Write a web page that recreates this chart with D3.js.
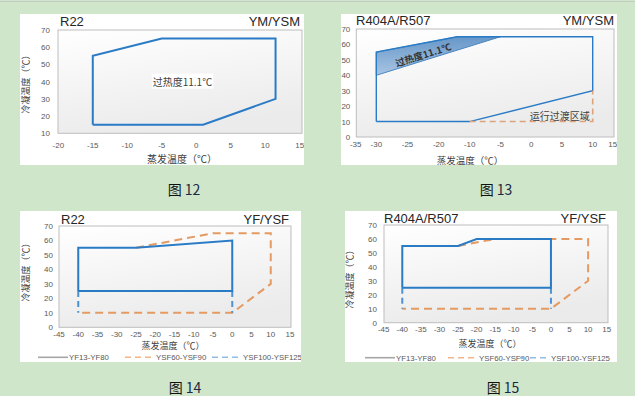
<!DOCTYPE html>
<html>
<head>
<meta charset="utf-8">
<script src="https://cdnjs.cloudflare.com/ajax/libs/d3/7.8.5/d3.min.js"></script>
<style>
  html, body { margin: 0; padding: 0; background: #cfe6cb; }
  svg { display: block; }
  text { font-family: "Liberation Sans", Arial, sans-serif; }
  .cjk { font-family: "Noto Sans CJK SC", sans-serif; }
</style>
</head>
<body>
<div id="chart"></div>
<script>
// ---- data ----
const fig12Envelope = [[-15, 15], [-15, 55], [-5, 65], [11.5, 65], [11.5, 30], [1, 15], [-15, 15]];
const fig12Label = { x: -2, y: 40, text: "过热度11.1℃" };

const fig13Envelope = [[-30, 10], [-30, 55], [-14, 65], [10, 65], [10, 30], [-10, 10], [-30, 10]];
const fig13Superheat = [[-30, 55], [-14, 65], [-5, 65], [-30, 40]];
const fig13Transition = [[-10, 10], [10, 10], [10, 30]];
const fig13XTicks = [-35, -30, -25, -20, -10, -5, 0, 5, 10, 15];

const fig14Solid = [[-40, 25], [-40, 55], [-25, 55], [0, 60], [0, 25], [-40, 25]];
const fig14Orange = [[-25, 55], [-5, 65], [10, 65], [10, 30], [0, 10], [-40, 10]];
const fig14BlueDash = [[[-40, 25], [-40, 10]], [[0, 25], [0, 10]]];

const fig15Solid = [[-40, 25], [-40, 55], [-25, 55], [-20, 60], [0, 60], [0, 25], [-40, 25]];
const fig15Orange = [[-25, 55], [-15, 60], [10, 60], [10, 30], [0, 10], [-40, 10]];
const fig15BlueDash = [[[-40, 25], [-40, 10]], [[0, 25], [0, 10]]];

const ticksX12 = [-20, -15, -10, -5, 0, 5, 10, 15];
const ticksY12 = [10, 20, 30, 40, 50, 60, 70];
const ticksX14 = [-45, -40, -35, -30, -25, -20, -15, -10, -5, 0, 5, 10, 15];
const ticksY14 = [0, 10, 20, 30, 40, 50, 60, 70];
const legendNames = ["YF13-YF80", "YSF60-YSF90", "YSF100-YSF125"];

const W = 635, H = 396;
const BLUE = "#2a7bc6", ORANGE = "#e49a62", BLUE_DASH = "#4d93d4";

const svg = d3.select("#chart").append("svg").attr("width", W).attr("height", H);

const defs = svg.append("defs");
const pg = defs.append("linearGradient").attr("id", "plotfill").attr("x1", 0).attr("y1", 0).attr("x2", 0.3).attr("y2", 1);
pg.append("stop").attr("offset", "0%").attr("stop-color", "#ffffff");
pg.append("stop").attr("offset", "100%").attr("stop-color", "#ebebeb");
const sg = defs.append("linearGradient").attr("id", "shfill").attr("x1", 0).attr("y1", 0).attr("x2", 0).attr("y2", 1);
sg.append("stop").attr("offset", "0%").attr("stop-color", "#6797c9");
sg.append("stop").attr("offset", "100%").attr("stop-color", "#a9c5e3");

// top rule
svg.append("line").attr("x1", 0).attr("x2", W).attr("y1", 1.5).attr("y2", 1.5)
  .attr("stroke", "#c3ccc3").attr("stroke-width", 1);

let clipId = 0;
function panel(o) {
  const id = "clip" + (clipId++);
  defs.append("clipPath").attr("id", id).append("rect")
    .attr("x", o.box[0]).attr("y", o.box[1])
    .attr("width", o.box[2] - o.box[0]).attr("height", o.box[3] - o.box[1]);
  const outer = svg.append("g");
  const g = outer.append("g").attr("clip-path", `url(#${id})`);
  g.append("rect").attr("x", o.box[0]).attr("y", o.box[1])
    .attr("width", o.box[2] - o.box[0]).attr("height", o.box[3] - o.box[1]).attr("fill", "#fff");

  const x = o.x, y = o.y;
  const [px0, px1] = o.plotX, [py0, py1] = o.plotY;
  g.append("rect").attr("x", px0).attr("y", py0).attr("width", px1 - px0).attr("height", py1 - py0)
    .attr("fill", "url(#plotfill)").attr("stroke", "#bdbdbd").attr("stroke-width", 1);

  // ticks
  g.append("g").selectAll("text").data(o.yTicks).join("text")
    .attr("x", px0 - o.yGap).attr("y", d => y(d) + 3)
    .attr("text-anchor", "end").attr("font-size", 8).attr("fill", "#595959").text(d => d);
  g.append("g").selectAll("text").data(o.xTicks).join("text")
    .attr("x", d => x(d)).attr("y", o.xTickY)
    .attr("text-anchor", "middle").attr("font-size", 8).attr("fill", "#595959").text(d => d);

  // titles
  g.append("text").attr("x", o.titleX).attr("y", o.titleY).attr("font-size", 13).attr("fill", "#262626").text(o.title);
  g.append("text").attr("x", o.rightX).attr("y", o.titleY).attr("font-size", 13).attr("fill", "#262626")
    .attr("text-anchor", "end").text(o.right);
  g.append("text").attr("class", "cjk").attr("x", o.xTitle[0]).attr("y", o.xTitle[1])
    .attr("font-size", o.xTitleSize).attr("fill", "#404040").attr("text-anchor", "middle").text("蒸发温度（℃）");
  if (o.yTitle) {
    g.append("text").attr("class", "cjk")
      .attr("transform", `translate(${o.yTitle[0]},${o.yTitle[1]}) rotate(-90)`)
      .attr("font-size", 9).attr("fill", "#404040").attr("text-anchor", "middle")
      .attr("dominant-baseline", "middle").text("冷凝温度（℃）");
  }
  // caption (outside the white box)
  const cap = outer.append("text").attr("class", "cjk").attr("x", o.caption[0]).attr("y", o.caption[1])
    .attr("font-size", 14).attr("text-anchor", "middle").attr("fill", "#111");
  cap.append("tspan").text("图 ");
  cap.append("tspan").attr("fill", "#1b2a44").text(o.captionNum);

  const line = d3.line().x(d => x(d[0])).y(d => y(d[1]));
  return { g, x, y, line };
}

function legend(g, lx, ly) {
  const items = [
    { name: legendNames[0], color: "#a6a6a6", dash: null, x: lx[0] },
    { name: legendNames[1], color: "#f2b58a", dash: "6,4", x: lx[1] },
    { name: legendNames[2], color: "#8fbde6", dash: "6,4", x: lx[2] }
  ];
  items.forEach(it => {
    g.append("line").attr("x1", it.x).attr("x2", it.x + 30).attr("y1", ly).attr("y2", ly)
      .attr("stroke", it.color).attr("stroke-width", 1.6).attr("stroke-dasharray", it.dash);
    g.append("text").attr("x", it.x + 31).attr("y", ly + 3).attr("font-size", 7.8)
      .attr("fill", "#595959").text(it.name);
  });
}

// ---- Fig 12 ----
{
  const p = panel({
    box: [20, 14, 304, 165], plotX: [58, 302], plotY: [30, 133.3],
    x: d3.scaleLinear().domain([-20, 15]).range([58.3, 299.7]),
    y: d3.scaleLinear().domain([10, 70]).range([133.3, 30]),
    xTicks: ticksX12, yTicks: ticksY12, yGap: 8, xTickY: 148,
    title: "R22", right: "YM/YSM", titleX: 60, rightX: 300, titleY: 26,
    xTitle: [182, 163], xTitleSize: 10, yTitle: [27, 82],
    caption: [184, 195], captionNum: "12"
  });
  p.g.append("path").attr("d", p.line(fig12Envelope)).attr("fill", "none")
    .attr("stroke", BLUE).attr("stroke-width", 2).attr("stroke-linejoin", "miter");
  const lbl = p.g.append("text").attr("class", "cjk")
    .attr("x", p.x(fig12Label.x)).attr("y", p.y(fig12Label.y) + 4)
    .attr("text-anchor", "middle").attr("font-size", 10).attr("fill", "#404040").text(fig12Label.text);
  const bb = lbl.node().getBBox();
  p.g.append("rect").attr("x", bb.x - 1).attr("y", bb.y).attr("width", bb.width + 2)
    .attr("height", bb.height).attr("fill", "#fff");
  lbl.raise();
}

// ---- Fig 13 ----
{
  const p = panel({
    box: [341, 14, 617, 165], plotX: [356.3, 614], plotY: [29, 137],
    x: d3.scaleLinear().domain([-35, -30, -20, -10, 10, 15]).range([355.7, 376.3, 438.7, 469.7, 592.7, 612.7]),
    y: d3.scaleLinear().domain([0, 70]).range([137, 29]),
    xTicks: fig13XTicks, yTicks: ticksY14, yGap: 6, xTickY: 147,
    title: "R404A/R507", right: "YM/YSM", titleX: 356, rightX: 614, titleY: 25,
    xTitle: [470, 164], xTitleSize: 9.5, yTitle: null,
    caption: [496, 195], captionNum: "13"
  });
  p.g.append("path").attr("d", p.line(fig13Superheat) + "Z").attr("fill", "url(#shfill)")
    .attr("stroke", "#4a86c2").attr("stroke-width", 1);
  p.g.append("path").attr("d", p.line(fig13Envelope)).attr("fill", "none")
    .attr("stroke", BLUE).attr("stroke-width", 1.4);
  p.g.append("path").attr("d", p.line(fig13Transition)).attr("fill", "none")
    .attr("stroke", "#dda47c").attr("stroke-width", 1.6).attr("stroke-dasharray", "6,4");
  const ang = Math.atan2(p.y(65) - p.y(40), p.x(-5) - p.x(-30)) * 180 / Math.PI;
  p.g.append("text").attr("class", "cjk")
    .attr("transform", `translate(${p.x(-22.3)},${p.y(51)}) rotate(${ang})`)
    .attr("text-anchor", "middle").attr("font-size", 9.5).attr("font-weight", "bold")
    .attr("fill", "#333").text("过热度11.1℃");
  p.g.append("text").attr("class", "cjk").attr("x", p.x(10) - 3).attr("y", p.y(13) + 3)
    .attr("text-anchor", "end").attr("font-size", 10).attr("fill", "#404040").text("运行过渡区域");
}

// ---- Fig 14 ----
{
  const p = panel({
    box: [20, 211, 301, 362], plotX: [59, 291], plotY: [226, 327.3],
    x: d3.scaleLinear().domain([-45, 15]).range([59, 290]),
    y: d3.scaleLinear().domain([0, 70]).range([327.3, 226]),
    xTicks: ticksX14, yTicks: ticksY14, yGap: 6, xTickY: 337,
    title: "R22", right: "YF/YSF", titleX: 61, rightX: 289, titleY: 224,
    xTitle: [173, 349], xTitleSize: 9, yTitle: [27, 270],
    caption: [185, 393], captionNum: "14"
  });
  p.g.append("path").attr("d", p.line(fig14Orange)).attr("fill", "none")
    .attr("stroke", ORANGE).attr("stroke-width", 2).attr("stroke-dasharray", "8,5");
  fig14BlueDash.forEach(s => p.g.append("path").attr("d", p.line(s)).attr("fill", "none")
    .attr("stroke", BLUE_DASH).attr("stroke-width", 2).attr("stroke-dasharray", "6,4"));
  p.g.append("path").attr("d", p.line(fig14Solid)).attr("fill", "none")
    .attr("stroke", BLUE).attr("stroke-width", 2);
  legend(p.g, [38, 125, 212], 357.3);
}

// ---- Fig 15 ----
{
  const p = panel({
    box: [345, 211, 617, 362], plotX: [384, 608], plotY: [225, 322.7],
    x: d3.scaleLinear().domain([-45, 15]).range([383.7, 606.7]),
    y: d3.scaleLinear().domain([0, 70]).range([322.7, 225]),
    xTicks: ticksX14, yTicks: ticksY14, yGap: 7, xTickY: 332,
    title: "R404A/R507", right: "YF/YSF", titleX: 384, rightX: 606, titleY: 223,
    xTitle: [490, 347], xTitleSize: 9, yTitle: [351, 277],
    caption: [503, 393], captionNum: "15"
  });
  p.g.append("path").attr("d", p.line(fig15Orange)).attr("fill", "none")
    .attr("stroke", ORANGE).attr("stroke-width", 2).attr("stroke-dasharray", "8,5");
  fig15BlueDash.forEach(s => p.g.append("path").attr("d", p.line(s)).attr("fill", "none")
    .attr("stroke", BLUE_DASH).attr("stroke-width", 2).attr("stroke-dasharray", "6,4"));
  p.g.append("path").attr("d", p.line(fig15Solid)).attr("fill", "none")
    .attr("stroke", BLUE).attr("stroke-width", 2);
  legend(p.g, [365, 448, 520], 357.7);
}
</script>
</body>
</html>
